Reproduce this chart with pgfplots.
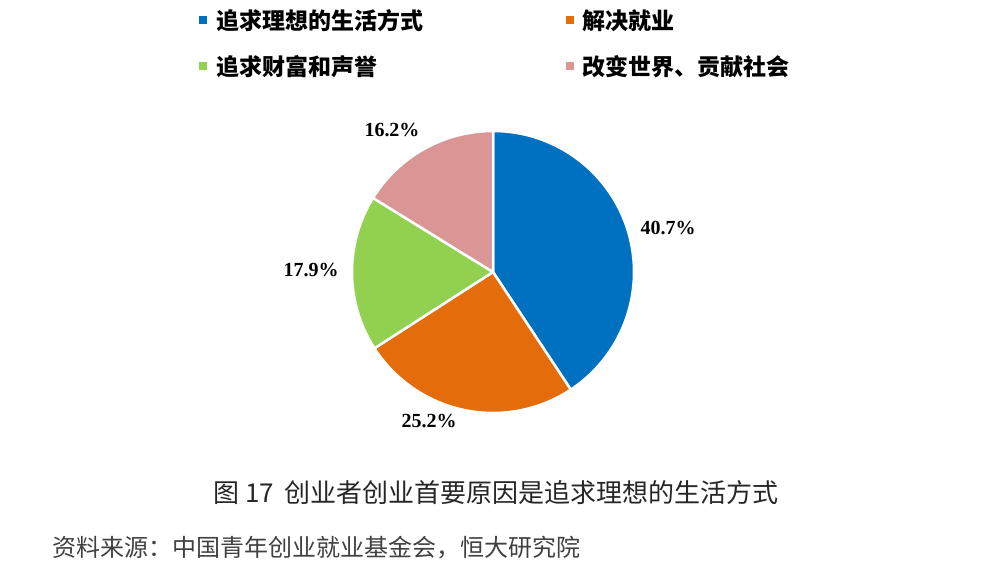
\documentclass[border=0pt]{standalone}
\usepackage{fontspec}
\setmainfont{Noto Sans CJK SC}
\newfontfamily\tnr{Liberation Serif}
\usepackage{pgfplots}
\usepackage{pgfplotstable}
\pgfplotsset{compat=1.18}

\definecolor{c0}{HTML}{0070C0}
\definecolor{c1}{HTML}{E46C0A}
\definecolor{c2}{HTML}{92D050}
\definecolor{c3}{HTML}{D99694}

% share of each reason, percent, clockwise from 12 o'clock
\pgfplotstableread{
value
40.7
25.2
17.9
16.2
}\piedata

\begin{document}
\begin{tikzpicture}
\path[use as bounding box] (0,0) rectangle (400pt,229.6pt);
\begin{axis}[
  at={(0,0)}, anchor=south west,
  scale only axis, width=400pt, height=229.6pt,
  xmin=0, xmax=1000, ymin=0, ymax=574, y dir=reverse,
  hide axis, clip=false]

% wedges
\def\cum{0}
\pgfplotsforeachungrouped \i in {0,...,3}{
  \pgfplotstablegetelem{\i}{value}\of\piedata
  \let\v\pgfplotsretval
  \pgfmathsetmacro\sa{90-3.6*\cum}
  \pgfmathsetmacro\ea{90-3.6*(\cum+\v)}
  \pgfmathsetmacro\cum{\cum+\v}
  \edef\temp{\noexpand\fill[fill=c\i, draw=white, line width=1pt, line join=round]
    (axis cs:493,272) -- ++(\sa:56.4pt) arc[start angle=\sa, end angle=\ea, radius=56.4pt] -- cycle;}
  \temp
}

% data labels
\begin{scope}[every node/.style={font=\tnr\bfseries\fontsize{8pt}{9pt}\selectfont}]
\node at (axis cs:668,228) {40.7\%};
\node at (axis cs:429,421) {25.2\%};
\node at (axis cs:311,270) {17.9\%};
\node at (axis cs:392,130) {16.2\%};
\end{scope}

% legend
\begin{scope}[every node/.style={anchor=west, inner sep=0pt, font=\bfseries\fontsize{9.2pt}{11pt}\selectfont}]
\fill[c0] (axis cs:199,16) rectangle (axis cs:207,24);
\node at (axis cs:216,21) {追求理想的生活方式};
\fill[c1] (axis cs:566,16) rectangle (axis cs:574,24);
\node at (axis cs:582,21) {解决就业};
\fill[c2] (axis cs:199,62) rectangle (axis cs:207,70);
\node at (axis cs:216,67) {追求财富和声誉};
\fill[c3] (axis cs:566,62) rectangle (axis cs:574,70);
\node at (axis cs:582,67) {改变世界、贡献社会};
\end{scope}

% caption and source
\node[font=\fontsize{10.4pt}{12pt}\selectfont, text=black!85] at (axis cs:496,493)
  {图 17\, 创业者创业首要原因是追求理想的生活方式};
\node[anchor=west, inner sep=0pt, font=\fontsize{9.6pt}{11pt}\selectfont, text=black!75] at (axis cs:52,548)
  {资料来源：中国青年创业就业基金会，恒大研究院};
\end{axis}
\end{tikzpicture}
\end{document}
